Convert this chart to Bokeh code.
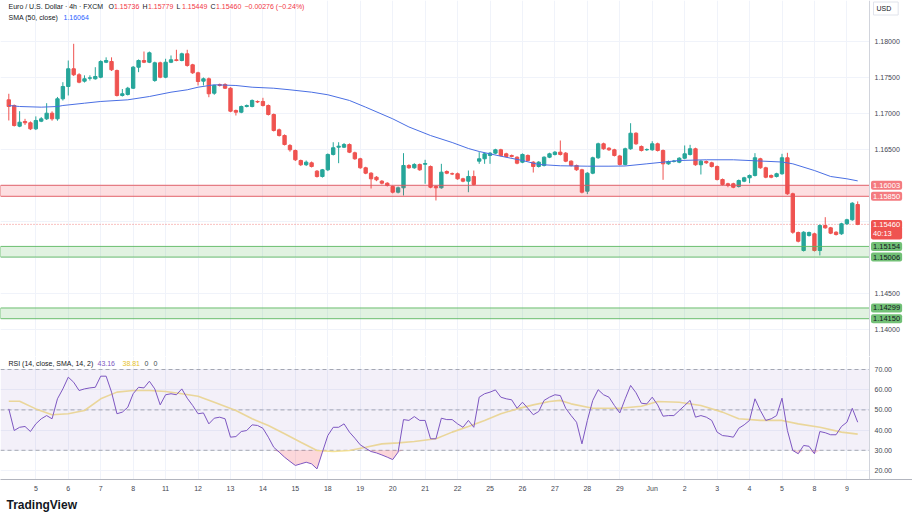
import numpy as np
from bokeh.plotting import figure
from bokeh.layouts import column
from bokeh.models import (ColumnDataSource, Range1d, FixedTicker, Label, BoxAnnotation, Span, Title)
from bokeh.core.properties import value
from bokeh.embed import file_html
from bokeh.resources import INLINE

# ---------------- data ----------------
opens = [1.17190, 1.17111, 1.16824, 1.16889, 1.16871, 1.16787, 1.16893, 1.16926, 1.17004, 1.16926,
         1.17204, 1.17375, 1.17621, 1.17538, 1.17449, 1.17490, 1.17482, 1.17504, 1.17712, 1.17722,
         1.17597, 1.17250, 1.17264, 1.17351, 1.17643, 1.17736, 1.17712, 1.17458, 1.17704, 1.17504,
         1.17712, 1.17746, 1.17736, 1.17829, 1.17676, 1.17565, 1.17449, 1.17482, 1.17282, 1.17403,
         1.17403, 1.17351, 1.17042, 1.17018, 1.17097, 1.17097, 1.17167, 1.17167, 1.17111, 1.16986,
         1.16773, 1.16694, 1.16556, 1.16486, 1.16347, 1.16288, 1.16315, 1.16199, 1.16125, 1.16218,
         1.16431, 1.16532, 1.16532, 1.16569, 1.16454, 1.16371, 1.16246, 1.16171, 1.16115, 1.16060,
         1.16032, 1.15986, 1.15907, 1.15968, 1.16278, 1.16246, 1.16292, 1.16295, 1.16264, 1.15986,
         1.15968, 1.16194, 1.16163, 1.16163, 1.16093, 1.16060, 1.16125, 1.16338, 1.16371, 1.16417,
         1.16449, 1.16496, 1.16440, 1.16417, 1.16393, 1.16324, 1.16417, 1.16324, 1.16264, 1.16278,
         1.16393, 1.16431, 1.16463, 1.16449, 1.16338, 1.16278, 1.16218, 1.15921, 1.16171, 1.16385,
         1.16579, 1.16518, 1.16496, 1.16410, 1.16292, 1.16510, 1.16726, 1.16542, 1.16496, 1.16496,
         1.16579, 1.16486, 1.16301, 1.16333, 1.16324, 1.16379, 1.16431, 1.16510, 1.16288, 1.16333,
         1.16315, 1.16264, 1.16083, 1.16024, 1.16024, 1.15986, 1.16060, 1.16107, 1.16139, 1.16371,
         1.16246, 1.16139, 1.16125, 1.16163, 1.16385, 1.15885, 1.15347, 1.15097, 1.15306, 1.15329,
         1.15097, 1.15444, 1.15412, 1.15351, 1.15329, 1.15468, 1.15524, 1.15736]
highs = [1.17274, 1.17125, 1.17032, 1.16926, 1.16890, 1.16960, 1.16950, 1.17143, 1.17030, 1.17230,
         1.17435, 1.17736, 1.17968, 1.17560, 1.17530, 1.17530, 1.17643, 1.17740, 1.17780, 1.17780,
         1.17610, 1.17340, 1.17370, 1.17660, 1.17750, 1.17861, 1.17860, 1.17720, 1.17720, 1.17760,
         1.17806, 1.17885, 1.17845, 1.17885, 1.17690, 1.17580, 1.17500, 1.17500, 1.17400, 1.17415,
         1.17420, 1.17365, 1.17055, 1.17110, 1.17125, 1.17195, 1.17181, 1.17218, 1.17125, 1.17000,
         1.16790, 1.16710, 1.16575, 1.16500, 1.16360, 1.16347, 1.16333, 1.16215, 1.16230, 1.16445,
         1.16601, 1.16601, 1.16590, 1.16585, 1.16470, 1.16385, 1.16260, 1.16185, 1.16130, 1.16075,
         1.16045, 1.16000, 1.15985, 1.16449, 1.16295, 1.16310, 1.16305, 1.16357, 1.16278, 1.16000,
         1.16301, 1.16210, 1.16180, 1.16180, 1.16107, 1.16208, 1.16208, 1.16463, 1.16455, 1.16465,
         1.16510, 1.16510, 1.16455, 1.16430, 1.16405, 1.16445, 1.16431, 1.16338, 1.16338, 1.16405,
         1.16455, 1.16478, 1.16625, 1.16465, 1.16350, 1.16290, 1.16232, 1.16185, 1.16400, 1.16595,
         1.16595, 1.16532, 1.16510, 1.16425, 1.16525, 1.16865, 1.16740, 1.16556, 1.16515, 1.16615,
         1.16595, 1.16500, 1.16347, 1.16355, 1.16393, 1.16556, 1.16565, 1.16525, 1.16352, 1.16347,
         1.16330, 1.16278, 1.16097, 1.16038, 1.16038, 1.16083, 1.16121, 1.16153, 1.16449, 1.16385,
         1.16260, 1.16153, 1.16177, 1.16440, 1.16454, 1.15900, 1.15360, 1.15365, 1.15360, 1.15345,
         1.15460, 1.15560, 1.15425, 1.15365, 1.15482, 1.15538, 1.15768, 1.15779]
lows = [1.16903, 1.16819, 1.16810, 1.16840, 1.16770, 1.16770, 1.16880, 1.16910, 1.16900, 1.16900,
        1.17180, 1.17250, 1.17520, 1.17420, 1.17430, 1.17458, 1.17470, 1.17490, 1.17700, 1.17590,
        1.17236, 1.17236, 1.17250, 1.17340, 1.17574, 1.17700, 1.17700, 1.17440, 1.17490, 1.17490,
        1.17700, 1.17725, 1.17725, 1.17650, 1.17550, 1.17389, 1.17389, 1.17226, 1.17260, 1.17375,
        1.17340, 1.17018, 1.16972, 1.17004, 1.17085, 1.17085, 1.17145, 1.17097, 1.16972, 1.16750,
        1.16680, 1.16556, 1.16470, 1.16340, 1.16270, 1.16270, 1.16250, 1.16110, 1.16110, 1.16200,
        1.16417, 1.16310, 1.16520, 1.16450, 1.16357, 1.16232, 1.16157, 1.15958, 1.16060, 1.16015,
        1.15986, 1.15890, 1.15890, 1.15861, 1.16232, 1.16232, 1.16204, 1.16024, 1.15962, 1.15792,
        1.15955, 1.16157, 1.16145, 1.16079, 1.16045, 1.15907, 1.16000, 1.16301, 1.16301, 1.16301,
        1.16435, 1.16403, 1.16390, 1.16390, 1.16295, 1.16310, 1.16333, 1.16180, 1.16250, 1.16264,
        1.16380, 1.16417, 1.16417, 1.16324, 1.16264, 1.16204, 1.15890, 1.15880, 1.16157, 1.16370,
        1.16496, 1.16480, 1.16403, 1.16278, 1.16278, 1.16496, 1.16565, 1.16472, 1.16480, 1.16482,
        1.16472, 1.16079, 1.16288, 1.16320, 1.16310, 1.16365, 1.16417, 1.16274, 1.16153, 1.16300,
        1.16250, 1.16069, 1.16000, 1.15976, 1.15962, 1.15972, 1.16046, 1.16032, 1.16125, 1.16232,
        1.16101, 1.16101, 1.16111, 1.16149, 1.15870, 1.15330, 1.15210, 1.15083, 1.15290, 1.15083,
        1.15028, 1.15400, 1.15324, 1.15305, 1.15315, 1.15454, 1.15510, 1.15449]
closes = [1.17097, 1.16833, 1.16879, 1.16871, 1.16787, 1.16903, 1.16926, 1.17004, 1.16926, 1.17204,
          1.17375, 1.17621, 1.17538, 1.17435, 1.17482, 1.17495, 1.17514, 1.17722, 1.17736, 1.17607,
          1.17250, 1.17274, 1.17351, 1.17643, 1.17736, 1.17712, 1.17843, 1.17704, 1.17504, 1.17712,
          1.17746, 1.17736, 1.17829, 1.17667, 1.17565, 1.17444, 1.17482, 1.17274, 1.17389, 1.17389,
          1.17351, 1.17032, 1.17018, 1.17097, 1.17111, 1.17181, 1.17160, 1.17111, 1.16986, 1.16764,
          1.16694, 1.16569, 1.16496, 1.16357, 1.16288, 1.16324, 1.16264, 1.16125, 1.16218, 1.16431,
          1.16524, 1.16546, 1.16569, 1.16463, 1.16371, 1.16246, 1.16171, 1.16093, 1.16079, 1.16032,
          1.16000, 1.15907, 1.15968, 1.16278, 1.16246, 1.16292, 1.16218, 1.16305, 1.15976, 1.15968,
          1.16185, 1.16171, 1.16160, 1.16093, 1.16060, 1.16125, 1.16014, 1.16371, 1.16440, 1.16449,
          1.16496, 1.16417, 1.16403, 1.16403, 1.16310, 1.16431, 1.16347, 1.16264, 1.16324, 1.16393,
          1.16440, 1.16463, 1.16431, 1.16338, 1.16278, 1.16218, 1.15907, 1.16171, 1.16385, 1.16579,
          1.16510, 1.16496, 1.16417, 1.16292, 1.16510, 1.16726, 1.16579, 1.16486, 1.16500, 1.16579,
          1.16486, 1.16301, 1.16333, 1.16340, 1.16379, 1.16440, 1.16510, 1.16288, 1.16338, 1.16315,
          1.16264, 1.16083, 1.16014, 1.16000, 1.15976, 1.16069, 1.16107, 1.16139, 1.16385, 1.16246,
          1.16115, 1.16115, 1.16163, 1.16385, 1.15885, 1.15351, 1.15226, 1.15351, 1.15347, 1.15097,
          1.15444, 1.15412, 1.15338, 1.15319, 1.15468, 1.15524, 1.15754, 1.15460]

sma_idx = [0, 2, 6, 9, 10, 14, 17, 22, 26, 30, 33, 35, 38, 42, 45, 49, 52, 56, 59, 63, 66, 71, 74,
           78, 82, 85, 87, 91, 95, 98, 102, 107, 111, 114, 118, 121, 124, 129, 134, 139, 143, 145,
           149, 152, 155, 157]
sma_val = [1.17111, 1.17097, 1.17088, 1.17097, 1.17111, 1.17143, 1.17167, 1.17190, 1.17236, 1.17296,
           1.17329, 1.17365, 1.17399, 1.17389, 1.17365, 1.17351, 1.17329, 1.17296, 1.17260, 1.17181,
           1.17088, 1.16926, 1.16813, 1.16694, 1.16597, 1.16514, 1.16472, 1.16407, 1.16347, 1.16292,
           1.16274, 1.16268, 1.16268, 1.16271, 1.16301, 1.16324, 1.16347, 1.16357, 1.16357, 1.16340,
           1.16326, 1.16301, 1.16208, 1.16125, 1.16093, 1.16064]

rsi_val = [50.5, 39.8, 41.4, 41.8, 39.3, 43.1, 45.6, 47.2, 45.6, 55.5,
           60.4, 66.2, 63.7, 59.6, 60.4, 60.9, 61.2, 66.7, 66.7, 58.8,
           48.1, 48.9, 51.3, 58.0, 61.2, 60.9, 64.2, 60.4, 52.5, 57.5,
           58.0, 57.5, 60.4, 55.8, 52.2, 48.1, 48.5, 43.1, 45.9, 46.4,
           45.6, 36.5, 36.8, 39.3, 39.8, 42.6, 42.3, 40.9, 36.5, 31.5,
           29.1, 26.6, 24.5, 22.5, 23.3, 24.1, 23.3, 20.8, 29.1, 37.3,
           41.4, 41.4, 43.1, 39.0, 36.0, 32.7, 31.0, 29.4, 28.7, 27.7,
           26.6, 25.4, 29.1, 45.2, 44.8, 46.7, 44.8, 44.8, 35.7, 35.7,
           45.9, 45.2, 45.2, 43.1, 41.4, 44.8, 41.4, 56.3, 58.0, 58.8,
           59.9, 56.3, 55.5, 55.0, 50.8, 53.8, 50.8, 47.6, 49.2, 54.7,
           56.3, 57.5, 57.1, 50.8, 47.2, 43.9, 33.2, 44.8, 54.7, 60.0,
           57.5, 56.3, 52.2, 48.5, 55.5, 62.1, 58.5, 53.3, 53.0, 56.3,
           52.5, 46.9, 47.2, 47.2, 49.7, 52.2, 54.7, 46.4, 47.2, 46.4,
           44.8, 39.0, 37.3, 37.0, 36.5, 40.9, 42.6, 44.8, 55.5, 49.7,
           44.8, 45.6, 47.2, 55.8, 39.8, 29.9, 28.3, 32.4, 32.0, 28.3,
           39.3, 38.7, 37.7, 37.7, 41.8, 43.9, 50.8, 43.9]

rsi_ma_idx = [0, 2, 5, 8, 11, 14, 17, 20, 23, 26, 29, 32, 35, 38, 42, 45, 48, 51, 54, 57, 60, 63,
              66, 69, 72, 75, 79, 82, 85, 88, 91, 94, 97, 100, 102, 104, 108, 113, 117, 120, 124,
              128, 132, 135, 139, 143, 146, 150, 154, 157]
rsi_ma_val = [54.3, 54.3, 50.5, 47.6, 48.1, 49.7, 55.5, 58.8, 59.6, 59.6, 59.1, 58.0, 56.8, 53.8,
              49.7, 45.6, 42.3, 38.2, 34.0, 29.9, 29.4, 29.9, 31.5, 33.2, 33.7, 34.4, 35.7, 39.0,
              41.8, 44.8, 48.1, 50.5, 52.5, 54.2, 54.7, 53.0, 50.8, 50.8, 51.8, 54.2, 53.8, 52.2,
              48.9, 45.6, 44.8, 44.8, 43.1, 41.4, 39.0, 38.0]

day_start_bar = [5, 11, 17, 23, 29, 35, 41, 47, 53, 59, 65, 71, 77, 83, 89, 95, 101, 107, 113,
                 119, 125, 131, 137, 143, 149, 155]
day_labels = ["5", "6", "7", "8", "11", "12", "13", "14", "15", "18", "19", "20", "21", "22",
              "25", "26", "27", "28", "29", "Jun", "2", "3", "4", "5", "8", "9"]

price_ticks = [1.14, 1.145, 1.15, 1.155, 1.16, 1.165, 1.17, 1.175, 1.18]
price_ticks_hidden = [1.15, 1.155, 1.16]      # covered by the coloured price tags
rsi_ticks = [20, 30, 40, 50, 60, 70]
rsi_levels = [70, 50, 30]

red_zone = [1.15850, 1.16003]
green_zones = [[1.15006, 1.15154], [1.14150, 1.14299]]
last_price = 1.15460
countdown = "40:13"
sma_last = "1.16064"
rsi_last = "43.16"
rsi_ma_last = "38.81"
ohlc_text = [("O", "1.15736"), ("H", "1.15779"), ("L", "1.15449"), ("C", "1.15460")]
change_text = "\u22120.00276 (\u22120.24%)"

# ---------------- styles / geometry ----------------
FONT = "Liberation Sans"
UP, DN = "#26a69a", "#ef5350"
GRID = "#f0f3fa"
TXT = "#131722"
AXT = "#434651"
AXLINE = "#d1d4dc"
W = 912
PLOT_W = 869            # width of the chart area left of the price scale
PRICE_H = 356
RSI_H = 157
RSI_FRAME_H = 123
BAR_PX = 5.407
FIRST_BAR_PX = 8.3

XR0 = -FIRST_BAR_PX / BAR_PX
XR_END = XR0 + W / BAR_PX
AXIS_X = XR0 + PLOT_W / BAR_PX
PY_TOP, PY_BOT = 1.185694, 1.13625
RY_TOP, RY_BOT = 76.44, 15.55


def px_x(px):
    return XR0 + px / BAR_PX


def px_y(py):
    return PY_TOP - py * (PY_TOP - PY_BOT) / PRICE_H


def rpx_y(py):
    return RY_TOP - (py - PRICE_H) * (RY_TOP - RY_BOT) / RSI_FRAME_H


xr = Range1d(XR0, XR_END)

idx = list(range(len(closes)))
colors = [UP if c >= o else DN for o, c in zip(opens, closes)]
src = ColumnDataSource(dict(
    idx=idx, open=opens, high=highs, low=lows, close=closes,
    top=[max(o, c) for o, c in zip(opens, closes)],
    bottom=[min(o, c) for o, c in zip(opens, closes)],
    color=colors))


def add_text(fig, x, y, text, color, size="7px", style="normal", align="left"):
    fig.add_layout(Label(x=x, y=y, text=text, text_color=color, text_font_size=size,
                         text_font=FONT, text_baseline="middle", text_align=align,
                         text_font_style=style))


def axis_box(fig, y, text, bg, fg):
    fig.add_layout(Label(x=px_x(PLOT_W + 1.5), y=y, text=text, text_color=fg,
                         text_font_size="7.5px", text_font=FONT, text_baseline="middle",
                         text_align="left", background_fill_color=bg, padding=2,
                         border_radius=2))


def scale_labels(fig, ys, texts):
    fig.text(x=[px_x(PLOT_W + 5)] * len(ys), y=ys, text=texts, text_font=value(FONT),
             text_font_size="7px", text_color=AXT, text_baseline="middle", text_align="left")


def mask_scale(fig, lo, hi):
    fig.quad(left=[AXIS_X], right=[XR_END], bottom=[lo], top=[hi], fill_color="white",
             line_color=None)
    fig.add_layout(Span(location=AXIS_X, dimension="height", line_color=AXLINE, line_width=1))


# ---------------- price pane ----------------
p = figure(width=W, height=PRICE_H, x_range=xr, y_range=Range1d(PY_BOT, PY_TOP),
           y_axis_location=None, x_axis_location=None, toolbar_location=None,
           output_backend="svg", min_border_left=0, min_border_right=0,
           min_border_top=0, min_border_bottom=0)
p.outline_line_color = None
p.background_fill_color = "white"
p.border_fill_color = "white"
p.xgrid.ticker = FixedTicker(ticks=day_start_bar)
p.ygrid.ticker = FixedTicker(ticks=price_ticks)
p.xgrid.grid_line_color = GRID
p.ygrid.grid_line_color = GRID

# zones
p.add_layout(BoxAnnotation(bottom=red_zone[0], top=red_zone[1], right=AXIS_X, fill_color="#f23645",
                           fill_alpha=0.16, line_color="#e0545c", line_width=1, line_alpha=0.9))
for lo, hi in green_zones:
    p.add_layout(BoxAnnotation(bottom=lo, top=hi, right=AXIS_X, fill_color="#4caf50", fill_alpha=0.17,
                               line_color="#5cb860", line_width=1, line_alpha=0.9))
p.segment(x0=[XR0], y0=[last_price], x1=[AXIS_X], y1=[last_price], line_color="#ef5350",
          line_dash="1 2", line_width=1, line_alpha=0.7)

# candles
p.segment(x0="idx", y0="low", x1="idx", y1="high", line_color="color", line_width=1, source=src)
p.vbar(x="idx", width=0.62, top="top", bottom="bottom", fill_color="color",
       line_color="color", line_width=1, source=src)

# SMA
p.line(sma_idx, sma_val, line_color="#4a6fe3", line_width=1)

# price scale
mask_scale(p, PY_BOT, PY_TOP)
shown = [t for t in price_ticks if t not in price_ticks_hidden]
scale_labels(p, shown, ["%.5f" % t for t in shown])

# legend lines
add_text(p, px_x(8), px_y(6), "Euro / U.S. Dollar \u00b7 4h \u00b7 FXCM", TXT)
ox = 108
for letter, val in ohlc_text:
    add_text(p, px_x(ox), px_y(6), letter, TXT)
    add_text(p, px_x(ox + 5.5), px_y(6), val, "#f23645")
    ox += 34
add_text(p, px_x(ox), px_y(6), change_text, "#f23645")
add_text(p, px_x(8), px_y(16.5), "SMA (50, close)", TXT)
add_text(p, px_x(63), px_y(16.5), sma_last, "#2962ff")

# coloured price tags on the scale
axis_box(p, red_zone[1], "%.5f" % red_zone[1], "#f47b80", "white")
axis_box(p, red_zone[0], "%.5f" % red_zone[0], "#f47b80", "white")
axis_box(p, px_y(232.5), countdown + "    ", "#ef5350", "white")
axis_box(p, last_price, "%.5f" % last_price, "#ef5350", "white")
for lo, hi in green_zones:
    axis_box(p, hi, "%.5f" % hi, "#72c076", TXT)
    axis_box(p, lo, "%.5f" % lo, "#72c076", TXT)
p.add_layout(Label(x=px_x(873), y=px_y(8), text="USD  ", text_color=TXT, text_font_size="7px",
                   text_font=FONT, text_baseline="middle", text_align="left",
                   border_line_color="#e0e3eb", padding=3))

# ---------------- RSI pane ----------------
r = figure(width=W, height=RSI_H, x_range=xr, y_range=Range1d(RY_BOT, RY_TOP),
           y_axis_location=None, toolbar_location=None, output_backend="svg",
           min_border_left=0, min_border_right=0, min_border_top=0,
           min_border_bottom=RSI_H - RSI_FRAME_H)
r.outline_line_color = None
r.background_fill_color = "white"
r.border_fill_color = "white"
r.xgrid.ticker = FixedTicker(ticks=day_start_bar)
r.ygrid.ticker = FixedTicker(ticks=rsi_ticks)
r.xgrid.grid_line_color = GRID
r.ygrid.grid_line_color = GRID

r.add_layout(BoxAnnotation(bottom=30, top=70, right=AXIS_X, fill_color="#7e57c2",
                           fill_alpha=0.09, line_alpha=0))
r.segment(x0=[XR0] * 3, y0=rsi_levels, x1=[AXIS_X] * 3, y1=rsi_levels, line_color="#9598a1",
          line_dash="4 3", line_width=1, line_alpha=0.8)

rsi_low = np.minimum(np.array(rsi_val), 30.0)
r.varea(x=idx, y1=[30.0] * len(idx), y2=rsi_low, fill_color="#f23645", fill_alpha=0.2)
r.line(rsi_ma_idx, rsi_ma_val, line_color="#f5e08c", line_width=1.6, line_alpha=0.9)
r.line(idx, rsi_val, line_color="#7e57c2", line_width=1)

mask_scale(r, RY_BOT, RY_TOP)
scale_labels(r, rsi_ticks, ["%.2f" % t for t in rsi_ticks])

rx = r.xaxis[0]
rx.ticker = FixedTicker(ticks=day_start_bar)
rx.major_label_overrides = {t: lab for t, lab in zip(day_start_bar, day_labels)}
rx.major_tick_line_color = None
rx.minor_tick_line_color = None
rx.major_tick_out = 0
rx.major_tick_in = 0
rx.axis_line_color = "#b2b5be"
rx.major_label_text_font_size = "7px"
rx.major_label_text_color = AXT
rx.major_label_text_font = FONT
rx.major_label_standoff = 5

add_text(r, px_x(8), rpx_y(363), "RSI (14, close, SMA, 14, 2)", TXT)
add_text(r, px_x(97), rpx_y(363), rsi_last, "#7e57c2")
add_text(r, px_x(122), rpx_y(363), rsi_ma_last, "#e6c229")
add_text(r, px_x(144), rpx_y(363), "0", AXT)
add_text(r, px_x(153), rpx_y(363), "0", AXT)

r.add_layout(Title(text="TradingView", align="left", text_font_size="12px",
                   text_font_style="bold", text_color=TXT, text_font=FONT,
                   standoff=2, offset=6), "below")

layout = column(p, r, spacing=0)
open("out.html", "w").write(file_html(layout, INLINE))
